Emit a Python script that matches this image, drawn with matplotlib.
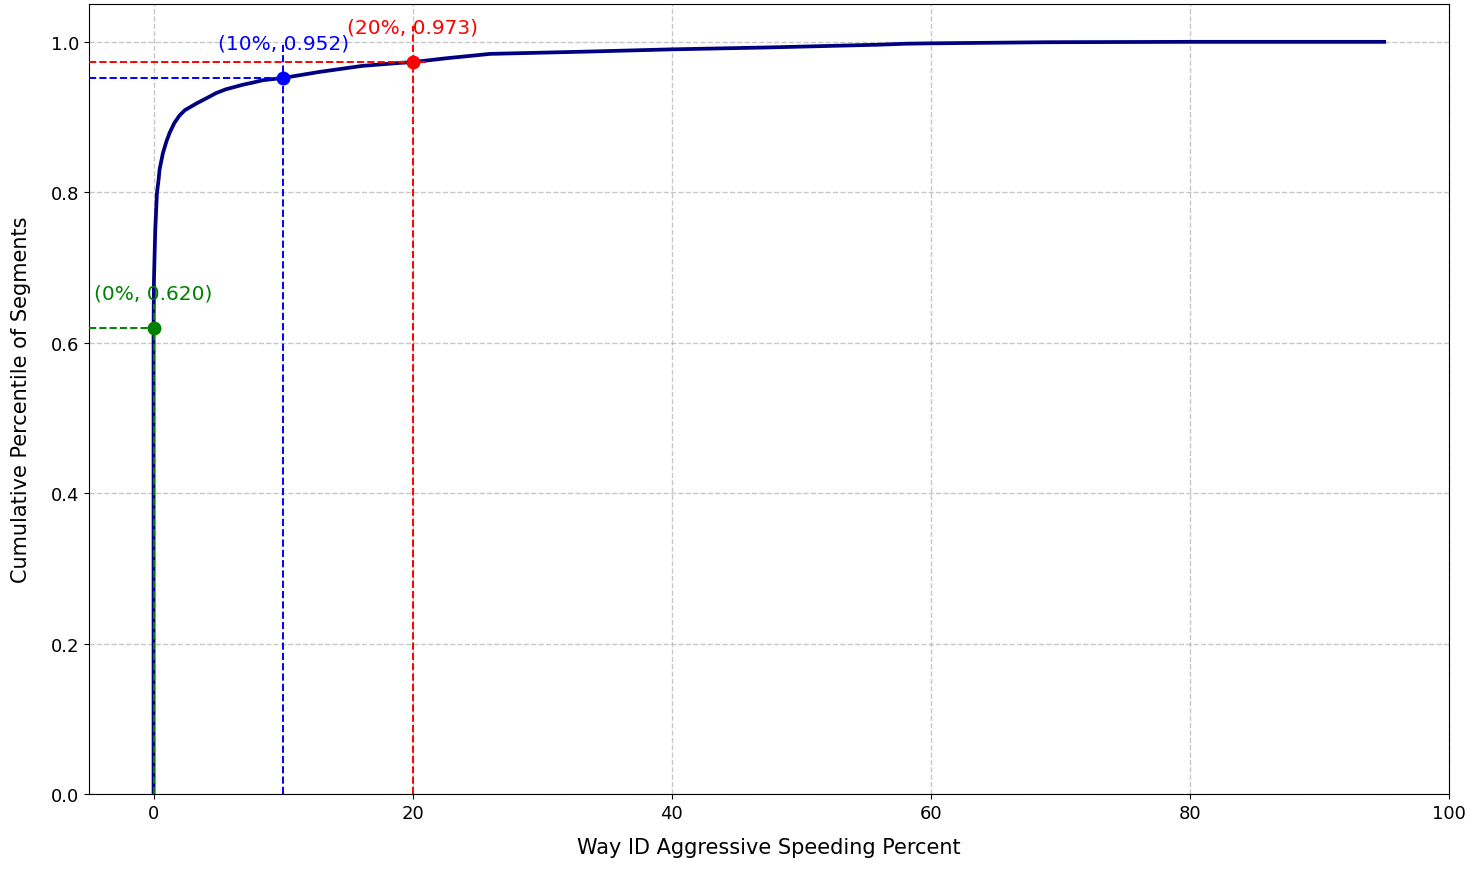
import matplotlib
matplotlib.use("Agg")
import matplotlib.pyplot as plt

# cumulative curve
speed_pct = [0, 0, 0.03, 0.13, 0.26, 0.39, 0.46, 0.72, 1.0, 1.24, 1.6, 2.0, 2.4, 2.8,
             3.3, 4.3, 4.84, 5.6, 6.9, 7.7, 8.44, 10.0, 12.8, 16.1, 19.0, 20.0, 22.5,
             26.0, 33.4, 40.0, 47.3, 52.5, 56.0, 58.0, 60.0, 69.0, 80.0, 95.0]
cum_pct = [0, 0.620, 0.684, 0.750, 0.799, 0.817, 0.830, 0.852, 0.868, 0.879, 0.892,
           0.902, 0.909, 0.913, 0.918, 0.927, 0.932, 0.937, 0.943, 0.946, 0.949,
           0.952, 0.960, 0.968, 0.972, 0.973, 0.978, 0.984, 0.987, 0.990, 0.9925,
           0.9947, 0.9962, 0.9975, 0.998, 0.9995, 1.0, 1.0]

# highlighted thresholds
mark_x = [0, 10, 20]
mark_y = [0.620, 0.952, 0.973]
mark_colors = ["green", "blue", "red"]
hline_end = [0, 10, 21]

fig, ax = plt.subplots(figsize=(14.8, 8.7), dpi=100)
fig.subplots_adjust(left=0.060, right=0.979, top=0.994, bottom=0.086)

ax.plot(speed_pct, cum_pct, color="navy", lw=2.7, zorder=3)

ylim_top = 1.05
for x, y, c, xe in zip(mark_x, mark_y, mark_colors, hline_end):
    ax.axvline(x, ymin=0, ymax=y, color=c, ls="--", lw=1.4, zorder=4)
    ax.hlines(y, -5, xe, color=c, ls="--", lw=1.4, zorder=4)
    ax.plot(x, y, "o", color=c, ms=9, zorder=5)
    ax.annotate(f"({x}%, {y:.3f})", (x, y), xytext=(0, 25), textcoords="offset points",
                ha="center", va="center", color=c, fontsize=14.5)

ax.set_xlim(-5, 100)
ax.set_ylim(0, ylim_top)
ax.set_xticks([0, 20, 40, 60, 80, 100])
ax.set_yticks([0.0, 0.2, 0.4, 0.6, 0.8, 1.0])
ax.tick_params(labelsize=13)
ax.grid(True, ls="--", color="#b0b0b0", alpha=0.7, lw=1.0)
ax.set_xlabel("Way ID Aggressive Speeding Percent", fontsize=15, labelpad=11)
ax.set_ylabel("Cumulative Percentile of Segments", fontsize=15, labelpad=14)

plt.savefig("out.png")
